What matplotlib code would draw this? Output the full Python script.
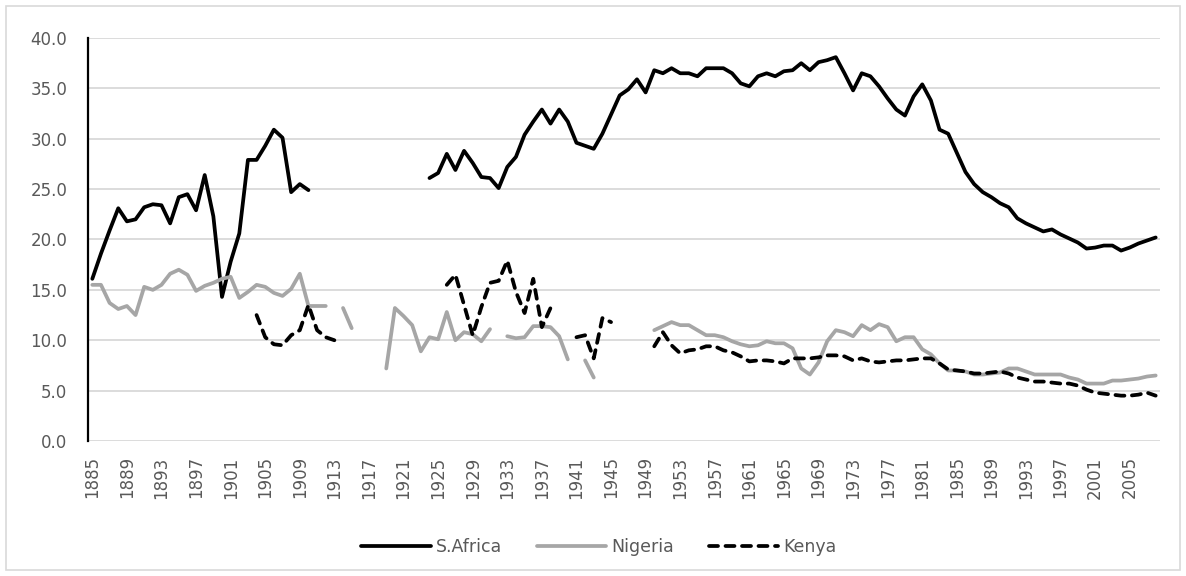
import numpy as np
import matplotlib
matplotlib.use("Agg")
import matplotlib.pyplot as plt
from matplotlib.patches import Rectangle

nan = np.nan

years = list(range(1885, 2009))

# values, one per year, nan where the series has a gap
s_africa = [
    16.1, 18.6, 20.9, 23.1, 21.8, 22.0, 23.2, 23.5, 23.4, 21.6,   # 1885-1894
    24.2, 24.5, 22.9, 26.4, 22.3, 14.3, 17.8, 20.6, 27.9, 27.9,   # 1895-1904
    29.3, 30.9, 30.1, 24.7, 25.5, 24.9, nan, nan, nan, nan,       # 1905-1914
    nan, nan, nan, nan, nan, nan, nan, nan, nan, 26.1,            # 1915-1924
    26.6, 28.5, 26.9, 28.8, 27.6, 26.2, 26.1, 25.1, 27.2, 28.2,   # 1925-1934
    30.4, 31.7, 32.9, 31.5, 32.9, 31.7, 29.6, 29.3, 29.0, 30.5,   # 1935-1944
    32.4, 34.3, 34.9, 35.9, 34.6, 36.8, 36.5, 37.0, 36.5, 36.5,   # 1945-1954
    36.2, 37.0, 37.0, 37.0, 36.5, 35.5, 35.2, 36.2, 36.5, 36.2,   # 1955-1964
    36.7, 36.8, 37.5, 36.8, 37.6, 37.8, 38.1, 36.5, 34.8, 36.5,   # 1965-1974
    36.2, 35.2, 34.0, 32.9, 32.3, 34.2, 35.4, 33.8, 30.9, 30.5,   # 1975-1984
    28.6, 26.7, 25.5, 24.7, 24.2, 23.6, 23.2, 22.1, 21.6, 21.2,   # 1985-1994
    20.8, 21.0, 20.5, 20.1, 19.7, 19.1, 19.2, 19.4, 19.4, 18.9,   # 1995-2004
    19.2, 19.6, 19.9, 20.2,                                       # 2005-2008
]

nigeria = [
    15.5, 15.5, 13.7, 13.1, 13.4, 12.5, 15.3, 15.0, 15.5, 16.6,   # 1885-1894
    17.0, 16.5, 14.9, 15.4, 15.7, 16.1, 16.3, 14.2, 14.8, 15.5,   # 1895-1904
    15.3, 14.7, 14.4, 15.1, 16.6, 13.4, 13.4, 13.4, nan, 13.2,    # 1905-1914
    11.2, nan, nan, nan, 7.2, 13.2, 12.4, 11.5, 8.9, 10.3,        # 1915-1924
    10.1, 12.8, 10.0, 10.8, 10.6, 9.9, 11.1, nan, 10.4, 10.2,     # 1925-1934
    10.3, 11.4, 11.4, 11.3, 10.4, 8.1, nan, 8.0, 6.3, nan,        # 1935-1944
    nan, nan, nan, nan, nan, 11.0, 11.4, 11.8, 11.5, 11.5,        # 1945-1954
    11.0, 10.5, 10.5, 10.3, 9.9, 9.6, 9.4, 9.5, 9.9, 9.7,         # 1955-1964
    9.7, 9.2, 7.2, 6.6, 7.8, 9.9, 11.0, 10.8, 10.4, 11.5,         # 1965-1974
    11.0, 11.6, 11.3, 9.9, 10.3, 10.3, 9.1, 8.6, 7.7, 7.0,        # 1975-1984
    7.0, 6.9, 6.6, 6.6, 6.7, 6.8, 7.2, 7.2, 6.9, 6.6,             # 1985-1994
    6.6, 6.6, 6.6, 6.3, 6.1, 5.7, 5.7, 5.7, 6.0, 6.0,             # 1995-2004
    6.1, 6.2, 6.4, 6.5,                                           # 2005-2008
]

kenya = [
    nan, nan, nan, nan, nan, nan, nan, nan, nan, nan,             # 1885-1894
    nan, nan, nan, nan, nan, nan, nan, nan, nan, 12.5,            # 1895-1904
    10.3, 9.6, 9.5, 10.5, 11.0, 13.5, 11.0, 10.3, 10.0, nan,      # 1905-1914
    nan, nan, nan, nan, nan, nan, nan, nan, nan, nan,             # 1915-1924
    nan, 15.5, 16.5, 13.5, 10.5, 13.3, 15.7, 15.9, 17.9, 14.8,    # 1925-1934
    12.7, 16.1, 11.3, 13.2, nan, nan, 10.3, 10.5, 8.2, 12.2,      # 1935-1944
    11.8, nan, nan, nan, nan, 9.4, 10.8, 9.5, 8.7, 9.0,           # 1945-1954
    9.1, 9.4, 9.4, 9.0, 8.8, 8.4, 7.9, 8.0, 8.0, 7.9,             # 1955-1964
    7.7, 8.2, 8.2, 8.2, 8.3, 8.5, 8.5, 8.4, 8.0, 8.2,             # 1965-1974
    7.9, 7.8, 7.9, 8.0, 8.0, 8.1, 8.2, 8.2, 7.7, 7.1,             # 1975-1984
    7.0, 6.9, 6.7, 6.7, 6.8, 6.9, 6.7, 6.3, 6.1, 5.9,             # 1985-1994
    5.9, 5.8, 5.7, 5.7, 5.5, 5.1, 4.8, 4.7, 4.6, 4.5,             # 1995-2004
    4.5, 4.6, 4.8, 4.5,                                           # 2005-2008
]

tick_years = list(range(1885, 2006, 4))

plt.rcParams['font.family'] = ['DejaVu Sans']
text_col = "#595959"

fig = plt.figure(figsize=(11.86, 5.76), dpi=100)
ax = fig.add_axes([88/1186, 1 - 441/576, (1160 - 88)/1186, (441 - 38)/576])

lw = 2.7
ax.plot(years, s_africa, color="black", lw=lw, label="S.Africa",
        solid_joinstyle="round", solid_capstyle="round")
ax.plot(years, nigeria, color="#a6a6a6", lw=lw, label="Nigeria",
        solid_joinstyle="round", solid_capstyle="round")
ax.plot(years, kenya, color="black", lw=lw, label="Kenya",
        dashes=(2.4, 2.0), dash_capstyle="round", dash_joinstyle="round")

ax.set_xlim(1884.5, 2008.5)
ax.set_ylim(0, 40)
ax.set_yticks(np.arange(0, 40.1, 5))
ax.yaxis.set_major_formatter(matplotlib.ticker.FormatStrFormatter("%.1f"))
ax.set_xticks(tick_years)
ax.set_xticklabels([str(y) for y in tick_years], rotation=90)

ax.grid(axis="y", color="#d9d9d9", lw=1.3)
ax.set_axisbelow(True)
for side in ["top", "right", "bottom"]:
    ax.spines[side].set_visible(False)
ax.spines["left"].set_color("black")
ax.spines["left"].set_linewidth(1.6)
ax.tick_params(axis="both", length=0, colors=text_col, labelsize=12)
ax.tick_params(axis="y", pad=15)
ax.tick_params(axis="x", pad=11)

fig.legend(loc="center", bbox_to_anchor=(0.505, 1 - 547/576), ncol=3,
           frameon=False, fontsize=12.5, handlelength=4.0, columnspacing=2.0,
           handletextpad=0.3, labelcolor=text_col)

# light frame round the whole chart
fig.patches.append(Rectangle((6/1186, 6/576), 1 - 12/1186, 1 - 12/576,
                             transform=fig.transFigure, fill=False,
                             edgecolor="#d9d9d9", lw=1.2))

fig.savefig("out.png", dpi=100)
